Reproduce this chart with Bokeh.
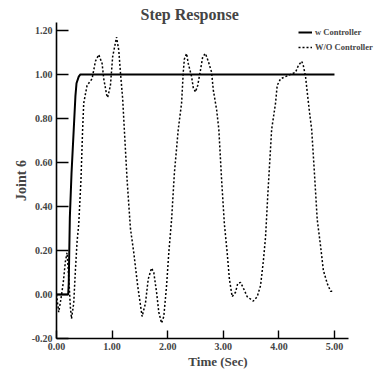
from bokeh.plotting import figure
from bokeh.models import Range1d, FixedTicker, Legend, LegendItem
from bokeh.embed import file_html
from bokeh.resources import INLINE

# ---- data ----
t_with = [0.0, 0.21, 0.22, 0.24, 0.27, 0.31, 0.34, 0.36, 0.40, 0.43, 0.50, 5.0]
y_with = [0.0, 0.0, 0.05, 0.35, 0.55, 0.75, 0.90, 0.96, 0.99, 1.0, 1.0, 1.0]

t_wo = [0.0, 0.04, 0.08, 0.12, 0.16, 0.19, 0.22, 0.25, 0.27, 0.31, 0.34, 0.37, 0.40,
        0.44, 0.47, 0.49, 0.55, 0.64, 0.70, 0.76, 0.82, 0.85, 0.90, 0.92, 0.97,
        1.01, 1.08, 1.12, 1.15, 1.19, 1.22, 1.27, 1.33, 1.39, 1.46, 1.54, 1.60,
        1.65, 1.71, 1.75, 1.80, 1.84, 1.89, 1.93, 1.98, 2.02, 2.07, 2.12, 2.19,
        2.25, 2.28, 2.30, 2.34, 2.37, 2.43, 2.46, 2.50, 2.54, 2.59, 2.63, 2.68,
        2.73, 2.79, 2.82, 2.88, 2.92, 2.97, 3.02, 3.07, 3.11, 3.16, 3.22, 3.26,
        3.31, 3.36, 3.43, 3.54, 3.61, 3.67, 3.72, 3.76, 3.80, 3.87, 3.94, 3.97,
        4.03, 4.12, 4.21, 4.30, 4.35, 4.41, 4.44, 4.48, 4.51, 4.55, 4.59, 4.64,
        4.69, 4.75, 4.80, 4.87, 4.93, 4.98]
y_wo = [0.0, -0.08, -0.02, 0.05, 0.15, 0.19, 0.08, -0.06, -0.11, -0.04, 0.11, 0.24, 0.32,
        0.52, 0.75, 0.87, 0.95, 0.98, 1.06, 1.09, 1.05, 0.98, 0.91, 0.895, 0.95,
        1.08, 1.17, 1.11, 1.01, 0.89, 0.75, 0.52, 0.30, 0.19, 0.04, -0.10, -0.04,
        0.07, 0.12, 0.10, 0.01, -0.08, -0.13, -0.10, 0.04, 0.19, 0.34, 0.55, 0.75,
        0.87, 1.01, 1.07, 1.095, 1.05, 0.99, 0.94, 0.92, 0.95, 1.02, 1.08, 1.095,
        1.06, 1.01, 0.93, 0.84, 0.75, 0.52, 0.32, 0.19, 0.07, -0.01, 0.01, 0.05,
        0.055, 0.03, -0.01, -0.03, -0.01, 0.04, 0.15, 0.26, 0.45, 0.75, 0.87, 0.95,
        0.98, 0.99, 1.0, 1.01, 1.04, 1.06, 1.04, 0.99, 0.92, 0.83, 0.75, 0.55,
        0.34, 0.22, 0.11, 0.05, 0.015, 0.015]

x_ticks = [0, 1, 2, 3, 4, 5]
x_tick_labels = ["0.00", "1.00", "2.00", "3.00", "4.00", "5.00"]
y_ticks = [-0.2, 0.0, 0.2, 0.4, 0.6, 0.8, 1.0, 1.2]
y_tick_labels = ["-0.20", "0.00", "0.20", "0.40", "0.60", "0.80", "1.00", "1.20"]
x_axis_extent = (0, 5.25)

series_names = ["w Controller", "W/O Controller"]

FONT = "Liberation Serif"

p = figure(width=379, height=371, output_backend="svg", toolbar_location=None,
           x_range=Range1d(0, 5.81), y_range=Range1d(-0.2, 1.236),
           min_border_left=56, min_border_right=0, min_border_top=22,
           min_border_bottom=32, title="Step Response")
p.outline_line_color = None
p.grid.visible = False
p.background_fill_color = "white"
p.border_fill_color = "white"

p.title.text_font = FONT
p.title.text_font_size = "16px"
p.title.text_font_style = "bold"
p.title.align = "left"
p.title.offset = 84
p.title.standoff = 0

for ax in (p.xaxis[0], p.yaxis[0]):
    ax.axis_line_width = 1.6
    ax.axis_line_color = "black"
    ax.major_tick_line_width = 1.4
    ax.major_tick_out = 0
    ax.minor_tick_line_color = None
    ax.major_label_text_font = FONT
    ax.major_label_text_font_style = "bold"
    ax.major_label_text_font_size = "10px"
    ax.axis_label_text_font = FONT
    ax.axis_label_text_font_style = "bold"
    ax.axis_label_text_font_size = "14px"

p.xaxis.ticker = FixedTicker(ticks=x_ticks)
p.xaxis.bounds = x_axis_extent
p.xaxis.major_label_overrides = dict(zip(x_ticks, x_tick_labels))
p.xaxis.major_tick_in = 8
p.xaxis.major_label_standoff = 4
p.xaxis.axis_label = "Time (Sec)"
p.xaxis.axis_label_standoff = 1
p.xaxis.axis_label_text_font_size = "13px"

p.yaxis.ticker = FixedTicker(ticks=y_ticks)
p.yaxis.major_label_overrides = dict(zip(y_ticks, y_tick_labels))
p.yaxis.major_tick_in = 12
p.yaxis.major_label_standoff = 4
p.yaxis.axis_label = "Joint 6"
p.yaxis.axis_label_standoff = 0

r1 = p.line(t_with, y_with, line_color="black", line_width=2)
r2 = p.line(t_wo, y_wo, line_color="black", line_width=1.5, line_dash="2 2")

legend = Legend(items=[LegendItem(label=series_names[0], renderers=[r1]),
                       LegendItem(label=series_names[1], renderers=[r2])],
                location=(242, 286), label_text_font=FONT,
                label_text_font_style="bold", label_text_font_size="8.5px",
                glyph_width=14, glyph_height=10, label_height=10,
                label_standoff=3, padding=0, margin=0,
                spacing=5, border_line_color=None, background_fill_alpha=0)
p.add_layout(legend, "center")

open("out.html", "w").write(file_html(p, INLINE))
